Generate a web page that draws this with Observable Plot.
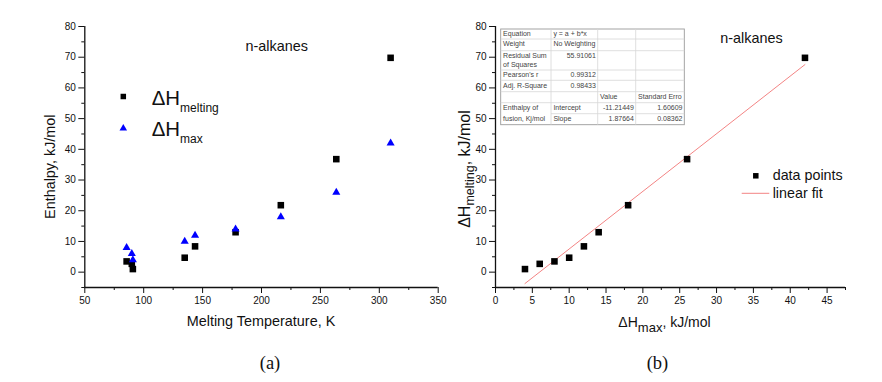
<!DOCTYPE html>
<html>
<head>
<meta charset="utf-8">
<script src="https://cdn.jsdelivr.net/npm/d3@7"></script>
<script src="https://cdn.jsdelivr.net/npm/@observablehq/plot@0.6"></script>
<style>
  html, body { margin: 0; padding: 0; background: #fff; }
  #wrap { position: relative; width: 882px; height: 382px; overflow: hidden; background: #fff; }
  #wrap svg { position: absolute; top: 0; }
  .cap { position: absolute; top: 354px; width: 60px; text-align: center; font-family: "Liberation Serif", "Times New Roman", serif; font-size: 18.5px; line-height: 18.5px; color: #111; }
</style>
</head>
<body>
<div id="wrap"></div>
<script>
// ---- data ----
const meltTemp   = [85.5, 89.9, 90.8, 134.8, 143.6, 178.0, 216.4, 263.5, 309.6]; // K
const dHmelting  = [3.5, 2.7, 1.0, 4.7, 8.4, 13.0, 21.8, 36.8, 69.8];             // kJ/mol
const dHmax      = [8, 6, 4, 10, 12, 14, 18, 26, 42];                              // kJ/mol
const fitX = [4, 42];
const fitY = [-3.71, 67.6];

const leftXTicks  = [50, 100, 150, 200, 250, 300, 350];
const leftXMinor  = [75, 125, 175, 225, 275, 325];
const rightXTicks = [0, 5, 10, 15, 20, 25, 30, 35, 40, 45];
const rightXMinor = [2.5, 7.5, 12.5, 17.5, 22.5, 27.5, 32.5, 37.5, 42.5, 47.5];
const yTicks = [0, 10, 20, 30, 40, 50, 60, 70, 80];
const yMinor = [-5, 5, 15, 25, 35, 45, 55, 65, 75];

const tableRows = [
  ["Equation", "y = a + b*x", "", ""],
  ["Weight", "No Weighting", "", ""],
  ["Residual Sum\nof Squares", "55.91061", "", ""],
  ["Pearson's r", "0.99312", "", ""],
  ["Adj. R-Square", "0.98433", "", ""],
  ["", "", "Value", "Standard Erro"],
  ["Enthalpy of", "Intercept", "-11.21449", "1.60609"],
  ["fusion, Kj/mol", "Slope", "1.87664", "0.08362"]
];

// ---- styling ----
const SANS = "'Liberation Sans', Arial, sans-serif";
const FIT = "#f38484";
const idx = d3.range(meltTemp.length);
const baseStyle = {background: "transparent", overflow: "visible", fontFamily: SANS, fontSize: "10px", color: "#111"};

function axes(xT, xM, xDom0, yDom0) {
  return [
    Plot.axisX(xT, {tickSize: 6, tickPadding: 3, label: null, fontSize: 10}),
    Plot.axisX(xM, {tickSize: 3, tickFormat: () => "", label: null}),
    Plot.axisY(yTicks, {tickSize: 6, tickPadding: 3, label: null, fontSize: 10}),
    Plot.axisY(yMinor, {tickSize: 3, tickFormat: () => "", label: null}),
    Plot.ruleY([yDom0], {stroke: "#111", strokeWidth: 1.3}),
    Plot.ruleX([xDom0], {stroke: "#111", strokeWidth: 1.3})
  ];
}

const left = Plot.plot({
  width: 441, height: 340,
  marginLeft: 84.3, marginRight: 3.3, marginTop: 26, marginBottom: 53,
  style: baseStyle,
  x: {domain: [50, 350], label: null},
  y: {domain: [-5, 80], label: null},
  marks: [
    ...axes(leftXTicks, leftXMinor, 50, -5),
    Plot.dot(idx, {x: i => meltTemp[i], y: i => dHmelting[i], symbol: "square", fill: "#000", r: 3.7}),
    Plot.dot(idx, {x: i => meltTemp[i], y: i => dHmax[i], symbol: "triangle", fill: "#0000ff", r: 3.0})
  ]
});

const right = Plot.plot({
  width: 441, height: 340,
  marginLeft: 54, marginRight: 37, marginTop: 26, marginBottom: 53,
  style: baseStyle,
  x: {domain: [0, 47.5], label: null},
  y: {domain: [-5, 80], label: null},
  marks: [
    ...axes(rightXTicks, rightXMinor, 0, -5),
    Plot.line(fitX, {x: fitX, y: fitY, stroke: FIT, strokeWidth: 1}),
    Plot.dot(idx, {x: i => dHmax[i], y: i => dHmelting[i], symbol: "square", fill: "#000", r: 3.7})
  ]
});

const wrap = document.getElementById("wrap");
left.style.left = "0px";
right.style.left = "441px";
wrap.appendChild(left);
wrap.appendChild(right);

// ---- annotations: left ----
const L = d3.select(left);
function txt(sel, x, y, s, size, anchor) {
  return sel.append("text").attr("x", x).attr("y", y).style("font-family", SANS)
    .attr("font-size", size).attr("fill", "#111").attr("text-anchor", anchor || "start").text(s);
}
txt(L, 276.7, 50.5, "n-alkanes", 14.4, "middle");
L.append("path").attr("d", d3.symbol(d3.symbolSquare, 3.1 * 3.1 * Math.PI)()).attr("transform", "translate(123.3,96.5)").attr("fill", "#000");
L.append("path").attr("d", d3.symbol(d3.symbolTriangle, 2.8 * 2.8 * Math.PI)()).attr("transform", "translate(123.3,128.3)").attr("fill", "#0000ff");
{
  const t1 = txt(L, 151.7, 104.5, "ΔH", 20.4);
  t1.append("tspan").attr("font-size", 12).attr("dy", 7.5).text("melting");
  const t2 = txt(L, 151.7, 135.5, "ΔH", 20.4);
  t2.append("tspan").attr("font-size", 12).attr("dy", 7.5).text("max");
}
txt(L, 0, 0, "Enthalpy, kJ/mol", 14.4, "middle").attr("transform", "translate(54.5,166.7) rotate(-90)");
txt(L, 261, 325.5, "Melting Temperature, K", 14.4, "middle");

// ---- annotations: right ----
const R = d3.select(right);
txt(R, 310.5, 43.3, "n-alkanes", 14.4, "middle");
R.append("path").attr("d", d3.symbol(d3.symbolSquare, 3.1 * 3.1 * Math.PI)()).attr("transform", "translate(314.8,175.8)").attr("fill", "#000");
txt(R, 331.7, 180.3, "data points", 14.3);
R.append("line").attr("x1", 300.7).attr("x2", 328.3).attr("y1", 193.3).attr("y2", 193.3).attr("stroke", FIT).attr("stroke-width", 1);
txt(R, 331.7, 197.8, "linear fit", 14.3);
{
  const ty = txt(R, 0, 0, "ΔH", 16, "middle").attr("transform", "translate(28.5,169) rotate(-90)");
  ty.append("tspan").attr("font-size", 12.5).attr("dy", 4.5).text("melting");
  ty.append("tspan").attr("dy", -4.5).text(", kJ/mol");
  const tx = txt(R, 223.5, 326.7, "ΔH", 14, "middle");
  tx.append("tspan").attr("font-size", 13).attr("dy", 5.5).text("max");
  tx.append("tspan").attr("dy", -5.5).text(", kJ/mol");
}

// ---- fit-result table ----
{
  const colX = [59.7, 110, 156.7, 194.7, 243.3];
  const rowY = [29, 39, 50.7, 70, 80.3, 91.7, 102.7, 113.7, 124.7];
  const g = R.append("g").style("font-family", SANS).attr("font-size", 7).attr("fill", "#444");
  g.append("rect").attr("x", colX[0]).attr("y", rowY[0]).attr("width", colX[4] - colX[0]).attr("height", rowY[8] - rowY[0])
    .attr("fill", "#fff").attr("stroke", "#9a9a9a").attr("stroke-width", 0.9);
  for (let r = 1; r < rowY.length - 1; r++) {
    const x0 = r === 7 ? colX[1] : colX[0];
    g.append("line").attr("x1", x0).attr("x2", colX[4]).attr("y1", rowY[r]).attr("y2", rowY[r]).attr("stroke", "#d6d6d6").attr("stroke-width", 0.8);
  }
  for (let c = 1; c < colX.length - 1; c++) {
    g.append("line").attr("x1", colX[c]).attr("x2", colX[c]).attr("y1", rowY[0]).attr("y2", rowY[8]).attr("stroke", "#d6d6d6").attr("stroke-width", 0.8);
  }
  tableRows.forEach((row, r) => {
    row.forEach((cell, c) => {
      if (!cell) return;
      const numeric = /^-?\d/.test(cell);
      const x = numeric ? colX[c + 1] - 1.8 : colX[c] + 2.4;
      const lines = cell.split("\n");
      lines.forEach((ln, k) => {
        g.append("text").attr("x", x).attr("y", rowY[r] + 7.4 + k * 8.4)
          .attr("text-anchor", numeric ? "end" : "start").text(ln);
      });
    });
  });
}

// ---- captions ----
for (const [lab, cx] of [["(a)", 270], ["(b)", 657.5]]) {
  const d = document.createElement("div");
  d.className = "cap";
  d.style.left = (cx - 30) + "px";
  d.textContent = lab;
  wrap.appendChild(d);
}
</script>
</body>
</html>
